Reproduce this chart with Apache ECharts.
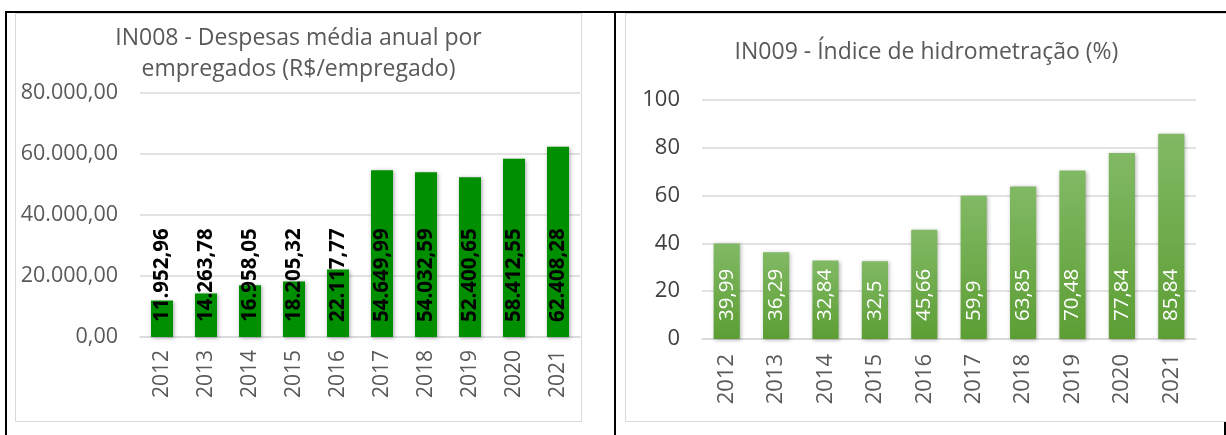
<!DOCTYPE html>
<html lang="pt">

<head>
    <meta charset="UTF-8">
    <script src="https://cdn.jsdelivr.net/npm/echarts@6.0.0/dist/echarts.min.js"></script>
    <title>IN008 / IN009</title>
    <style>
        body { margin: 0; background: #fff; }
        .line { position: absolute; background: #000; }
        .box { position: absolute; border: 1.5px solid #d9d9d9; box-sizing: border-box; background: #fff; }
    </style>
</head>

<body>
    <!-- linhas da tabela -->
    <div class="line" style="left:5px;top:11px;width:1221px;height:2px;"></div>
    <div class="line" style="left:5px;top:11px;width:2px;height:424px;"></div>
    <div class="line" style="left:614px;top:11px;width:2px;height:424px;"></div>
    <div class="line" style="left:1224px;top:420px;width:2px;height:15px;"></div>

    <div id="main" class="box" style="left:15px;top:13px;width:567px;height:409px;"></div>
    <div id="main1" class="box" style="left:625px;top:13px;width:603px;height:409px;"></div>
    <script>
        var anos = ['2012', '2013', '2014', '2015', '2016', '2017', '2018', '2019', '2020', '2021'];
        var despesas = [11952.96, 14263.78, 16958.05, 18205.32, 22117.77, 54649.99, 54032.59, 52400.65, 58412.55, 62408.28];
        var hidrometracao = [39.99, 36.29, 32.84, 32.5, 45.66, 59.9, 63.85, 70.48, 77.84, 85.84];

        var fonte = '"Open Sans", "Noto Sans", sans-serif';

        // formato brasileiro 12.345,67
        function fmtBR(v) {
            var p = Number(v).toFixed(2).split('.');
            return p[0].replace(/\B(?=(\d{3})+(?!\d))/g, '.') + ',' + p[1];
        }

        // primeiro gráfico
        var myChart = echarts.init(document.getElementById('main'));
        var option = {
            animation: false,
            textStyle: { fontFamily: fonte },
            title: {
                text: 'IN008 - Despesas média anual por\nempregados (R$/empregado)',
                left: 'center',
                top: 4,
                textStyle: { fontFamily: fonte, fontSize: 23, fontWeight: 'normal', color: '#595959', lineHeight: 31 }
            },
            grid: { left: 124, right: 1, top: 79, bottom: 84 },
            xAxis: {
                type: 'category',
                data: anos,
                axisTick: { show: false },
                axisLine: { lineStyle: { color: '#d9d9d9', width: 1.5 } },
                axisLabel: { rotate: 90, margin: 13, fontSize: 21, color: '#595959', fontFamily: fonte }
            },
            yAxis: {
                type: 'value',
                min: 0,
                max: 80000,
                interval: 20000,
                axisLabel: { margin: 22, fontSize: 21.5, color: '#595959', fontFamily: fonte, formatter: fmtBR },
                splitLine: { lineStyle: { color: '#d9d9d9', width: 1.5 } }
            },
            series: [{
                name: 'IN008',
                type: 'bar',
                data: despesas,
                barCategoryGap: '50%',
                itemStyle: {
                    color: '#008f00',
                    shadowBlur: 4,
                    shadowColor: 'rgba(0,0,0,0.35)',
                    shadowOffsetX: 1,
                    shadowOffsetY: 1
                },
                label: {
                    show: true,
                    position: 'insideBottom',
                    distance: 15,
                    rotate: 90,
                    align: 'left',
                    verticalAlign: 'middle',
                    fontSize: 20.5,
                    fontWeight: 'bold',
                    color: '#000',
                    fontFamily: fonte,
                    formatter: function (p) { return fmtBR(p.value); }
                }
            }]
        };
        myChart.setOption(option);

        // segundo gráfico
        var myChart1 = echarts.init(document.getElementById('main1'));
        var option1 = {
            animation: false,
            textStyle: { fontFamily: fonte },
            title: {
                text: 'IN009 - Índice de hidrometração (%)',
                left: 'center',
                top: 22,
                textStyle: { fontFamily: fonte, fontSize: 23, fontWeight: 'normal', color: '#595959' }
            },
            grid: { left: 76, right: 31, top: 86, bottom: 82 },
            xAxis: {
                type: 'category',
                data: anos,
                axisTick: { show: false },
                axisLine: { lineStyle: { color: '#d9d9d9', width: 1.5 } },
                axisLabel: { rotate: 90, margin: 15, fontSize: 22, color: '#595959', fontFamily: fonte }
            },
            yAxis: {
                type: 'value',
                min: 0,
                max: 100,
                interval: 20,
                axisLabel: { margin: 22, fontSize: 22, color: '#404040', fontFamily: fonte },
                splitLine: { lineStyle: { color: '#d9d9d9', width: 1.5 } }
            },
            series: [{
                name: 'IN009',
                type: 'bar',
                data: hidrometracao,
                barCategoryGap: '47%',
                itemStyle: {
                    color: new echarts.graphic.LinearGradient(0, 0, 0, 1, [
                        { offset: 0, color: '#81b964' },
                        { offset: 1, color: '#5c9e34' }
                    ]),
                    shadowBlur: 4,
                    shadowColor: 'rgba(0,0,0,0.3)',
                    shadowOffsetX: 1,
                    shadowOffsetY: 1
                },
                label: {
                    show: true,
                    position: 'insideBottom',
                    distance: 18,
                    rotate: 90,
                    align: 'left',
                    verticalAlign: 'middle',
                    fontSize: 20.5,
                    color: '#fff',
                    fontFamily: fonte,
                    formatter: function (p) { return String(p.value).replace('.', ','); }
                }
            }]
        };
        myChart1.setOption(option1);
    </script>
</body>

</html>
